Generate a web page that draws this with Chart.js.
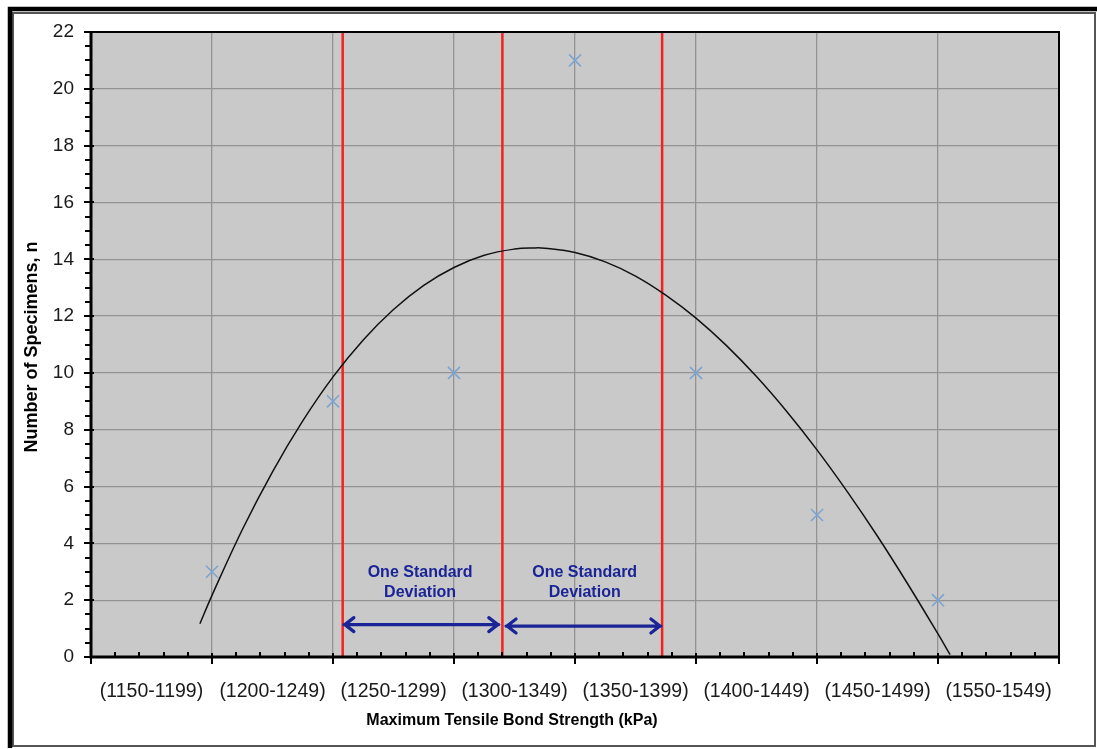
<!DOCTYPE html>
<html>
<head>
<meta charset="utf-8">
<script src="https://cdn.jsdelivr.net/npm/chart.js@4/dist/chart.umd.min.js"></script>
<style>
  html, body { margin: 0; padding: 0; background: #fff; }
  #wrap { width: 1097px; height: 749px; }
</style>
</head>
<body>
<div id="wrap"><canvas id="c" width="1097" height="749"></canvas></div>
<script>
// Strength ranges (kPa), one label per bin
const categories = ['(1150-1199)', '(1200-1249)', '(1250-1299)', '(1300-1349)',
                    '(1350-1399)', '(1400-1449)', '(1450-1499)', '(1550-1549)'];

// Number of specimens per bin
const binPositions = [1, 2, 3, 4, 5, 6, 7];
const specimenCounts = [3, 9, 10, 21, 10, 5, 2];

// Polynomial trend line through the counts
const trendX = [0.9, 1.0, 1.25, 1.5, 1.75, 2.0, 2.25, 2.5, 2.75, 3.0, 3.25, 3.5, 3.67,
                3.75, 4.0, 4.25, 4.5, 4.75, 5.0, 5.25, 5.5, 5.75, 6.0, 6.25, 6.5,
                6.75, 7.0, 7.1];
const trendY = [1.17, 2.17, 4.48, 6.52, 8.31, 9.86, 11.16, 12.23, 13.08, 13.71, 14.14,
                14.36, 14.40, 14.39, 14.24, 13.91, 13.41, 12.74, 11.93, 10.97, 9.87,
                8.64, 7.29, 5.82, 4.25, 2.57, 0.81, 0.08];

// Mean and one standard deviation either side
const sdBounds = [2.08, 3.40, 4.72];

// Double-headed arrows spanning each standard deviation
const arrowSpans = [[2.09, 3.37], [3.43, 4.71]];
const arrowLevels = [1.14, 1.09];
const sdLabelLines = ['One Standard', 'Deviation'];
const sdLabelX = [2.72, 4.08];
const sdLabelY = [2.96, 2.25];

// Axis ticks
const yTicks = [0, 2, 4, 6, 8, 10, 12, 14, 16, 18, 20, 22];

const FONT = "'Liberation Sans', Arial, sans-serif";
const GRID = '#939393';
const NAVY = '#1a2496';

const chartFrame = {
  id: 'chartFrame',
  beforeDraw(chart) {
    const { ctx, chartArea: a } = chart;
    ctx.save();
    ctx.fillStyle = '#ffffff';
    ctx.fillRect(0, 0, chart.width, chart.height);
    // outer frame: heavy top/left, light right/bottom
    ctx.strokeStyle = '#555';
    ctx.lineWidth = 2;
    ctx.strokeRect(13, 13, 1082, 733);
    ctx.strokeStyle = '#000';
    ctx.lineWidth = 4.5;
    ctx.beginPath();
    ctx.moveTo(10, 748); ctx.lineTo(10, 9); ctx.lineTo(1097, 9);
    ctx.stroke();
    // plot area
    ctx.fillStyle = '#c9c9c9';
    ctx.fillRect(a.left, a.top, a.right - a.left, a.bottom - a.top);
    ctx.restore();
  },
  afterDatasetsDraw(chart) {
    const { ctx, chartArea: a, scales } = chart;
    const xs = scales.x, ys = scales.y;
    ctx.save();
    // top and right border
    ctx.strokeStyle = '#000';
    ctx.lineWidth = 2;
    ctx.beginPath();
    ctx.moveTo(a.left, a.top); ctx.lineTo(a.right, a.top); ctx.lineTo(a.right, a.bottom);
    ctx.stroke();
    // axis lines
    ctx.lineWidth = 3;
    ctx.beginPath();
    ctx.moveTo(a.left, a.top - 1); ctx.lineTo(a.left, a.bottom);
    ctx.lineTo(a.right + 1, a.bottom);
    ctx.stroke();
    // x tick marks: minor every 0.2, major on whole bins
    ctx.lineWidth = 2;
    ctx.beginPath();
    for (let i = 0; i <= 40; i++) {
      const v = i * 0.2;
      const px = Math.round(xs.getPixelForValue(v));
      if (i % 5 === 0) { ctx.moveTo(px, a.bottom - 4); ctx.lineTo(px, a.bottom + 7); }
      else { ctx.moveTo(px, a.bottom - 5); ctx.lineTo(px, a.bottom); }
    }
    // y tick marks: minor every 0.5, major every 2
    for (let i = 0; i <= 44; i++) {
      const v = i * 0.5;
      const py = Math.round(ys.getPixelForValue(v));
      if (i % 4 === 0) { ctx.moveTo(a.left - 7, py); ctx.lineTo(a.left + 3, py); }
      else { ctx.moveTo(a.left - 6, py); ctx.lineTo(a.left, py); }
    }
    ctx.stroke();

    // standard deviation arrows
    ctx.strokeStyle = NAVY;
    ctx.lineWidth = 3.2;
    ctx.lineCap = 'round';
    ctx.lineJoin = 'round';
    arrowSpans.forEach((span, k) => {
      const y = ys.getPixelForValue(arrowLevels[k]);
      const x0 = xs.getPixelForValue(span[0]);
      const x1 = xs.getPixelForValue(span[1]);
      ctx.beginPath();
      ctx.moveTo(x0, y); ctx.lineTo(x1, y);
      ctx.moveTo(x0 + 10, y - 7); ctx.lineTo(x0 + 1, y); ctx.lineTo(x0 + 10, y + 7);
      ctx.moveTo(x1 - 10, y - 7); ctx.lineTo(x1 - 1, y); ctx.lineTo(x1 - 10, y + 7);
      ctx.stroke();
    });
    ctx.fillStyle = NAVY;
    ctx.font = 'bold 16px ' + FONT;
    ctx.textAlign = 'center';
    ctx.textBaseline = 'middle';
    sdLabelX.forEach(xv => {
      const px = xs.getPixelForValue(xv);
      sdLabelLines.forEach((line, j) => {
        ctx.fillText(line, px, ys.getPixelForValue(sdLabelY[j]));
      });
    });

    // axis titles
    ctx.fillStyle = '#000';
    ctx.font = 'bold 16px ' + FONT;
    ctx.fillText('Maximum Tensile Bond Strength (kPa)', 512, 721);
    ctx.font = 'bold 18px ' + FONT;
    ctx.translate(32, 347);
    ctx.rotate(-Math.PI / 2);
    ctx.fillText('Number of Specimens, n', 0, 0);
    ctx.restore();
  }
};

const redLine = (xv) => ({
  data: [{ x: xv, y: 0 }, { x: xv, y: 22 }],
  showLine: true,
  borderColor: '#f5221b',
  borderWidth: 2.5,
  pointRadius: 0,
  order: 3
});

new Chart(document.getElementById('c'), {
  type: 'scatter',
  data: {
    datasets: [
      {
        label: 'Specimens',
        data: binPositions.map((x, i) => ({ x, y: specimenCounts[i] })),
        pointStyle: 'crossRot',
        pointRadius: 8.5,
        pointBorderWidth: 1.6,
        borderColor: '#7ea3d0',
        backgroundColor: '#7ea3d0',
        order: 1
      },
      {
        label: 'Trend',
        data: trendX.map((x, i) => ({ x, y: trendY[i] })),
        showLine: true,
        borderColor: '#111',
        borderWidth: 1.5,
        tension: 0.4,
        pointRadius: 0,
        order: 2
      },
      ...sdBounds.map(redLine)
    ]
  },
  options: {
    responsive: false,
    animation: false,
    events: [],
    layout: { padding: { top: 32, right: 38, left: 0, bottom: 0 } },
    plugins: { legend: { display: false }, tooltip: { enabled: false } },
    scales: {
      x: {
        type: 'linear',
        min: 0, max: 8,
        afterBuildTicks(scale) {
          const t = [];
          for (let i = 0; i <= 16; i++) t.push({ value: i * 0.5 });
          scale.ticks = t;
        },
        afterFit(scale) { scale.height = 92; },
        border: { display: false },
        grid: {
          drawTicks: false,
          lineWidth: 1.3,
          color: (c) => {
            const v = c.tick ? c.tick.value : -1;
            return (Number.isInteger(v) && v > 0 && v < 8) ? GRID : 'rgba(0,0,0,0)';
          }
        },
        ticks: {
          autoSkip: false,
          maxRotation: 0,
          padding: 23,
          color: '#1a1a1a',
          font: { family: FONT, size: 19.5 },
          callback: (v) => (Math.abs(v % 1 - 0.5) < 1e-6) ? categories[Math.floor(v)] : ''
        }
      },
      y: {
        min: 0, max: 22,
        afterBuildTicks(scale) { scale.ticks = yTicks.map(v => ({ value: v })); },
        afterFit(scale) { scale.width = 91; },
        border: { display: false },
        grid: {
          drawTicks: false,
          lineWidth: 1.3,
          color: (c) => {
            const v = c.tick ? c.tick.value : -1;
            return (v > 0 && v < 22) ? GRID : 'rgba(0,0,0,0)';
          }
        },
        ticks: {
          padding: 17,
          color: '#1a1a1a',
          font: { family: FONT, size: 19 }
        }
      }
    }
  },
  plugins: [chartFrame]
});
</script>
</body>
</html>
